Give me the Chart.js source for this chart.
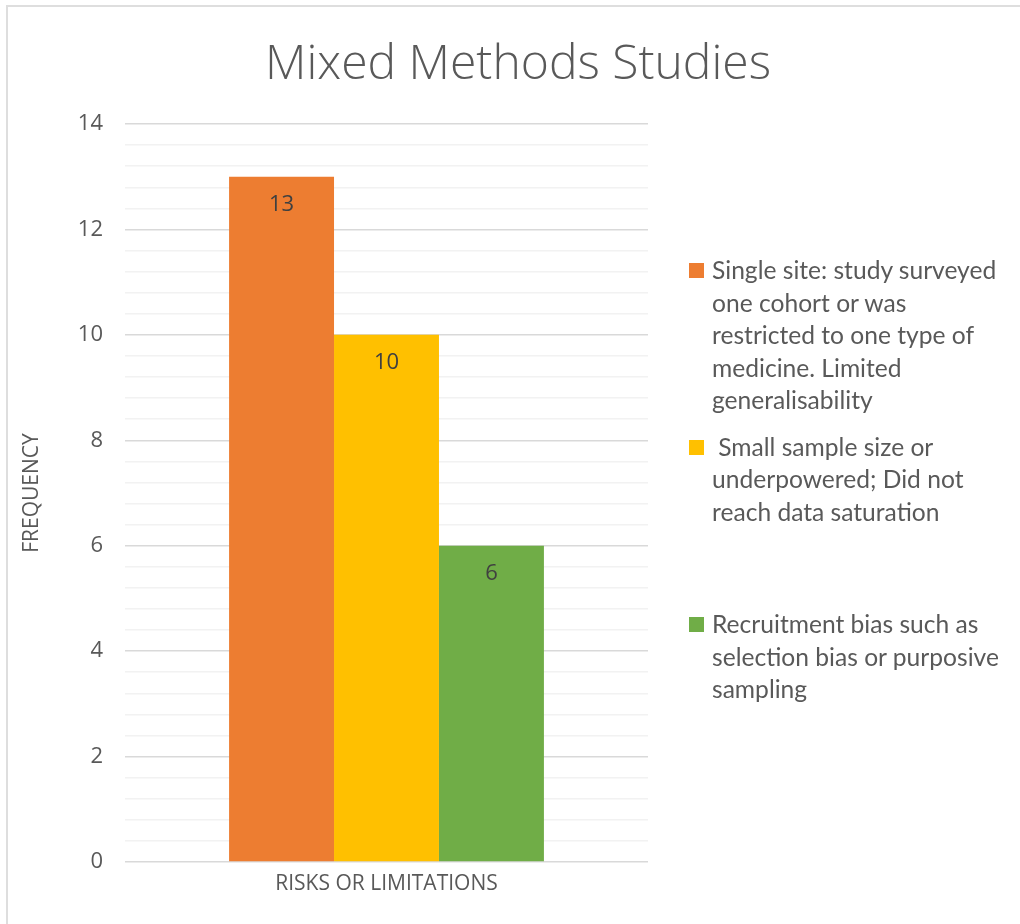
<!DOCTYPE html>
<html>
<head>
<meta charset="utf-8">
<script src="https://cdn.jsdelivr.net/npm/chart.js@4.4.1/dist/chart.umd.min.js"></script>
<style>
  html, body { margin: 0; padding: 0; background: #ffffff; }
  #wrap { position: relative; width: 1020px; height: 924px; overflow: hidden; background: #ffffff; }
  #frame { position: absolute; left: 6px; top: 5px; right: -4px; bottom: -4px;
           border-left: 2px solid #dedede; border-top: 2px solid #dedede; }
  #chart { position: absolute; left: 0; top: 0; }
  #title { position: absolute; left: 0; width: 1036px; top: 28px; text-align: center;
           font-family: "Open Sans", sans-serif; font-weight: 300; font-size: 48px;
           color: #595959; line-height: 66px; }
  #legend { position: absolute; left: 689px; top: 254px; width: 330px;
            font-family: Lato, "Open Sans", sans-serif; font-size: 24.6px; color: #595959; }
  .item { position: relative; padding-left: 23px; line-height: 32.5px; white-space: nowrap; }
  .swatch { position: absolute; left: 0; top: 9px; width: 15px; height: 15px; }
</style>
</head>
<body>
<div id="wrap">
  <div id="frame"></div>
  <canvas id="chart" width="1020" height="924"></canvas>
  <div id="title">Mixed Methods Studies</div>
  <div id="legend"></div>
</div>
<script>
// Chart data
const chartTitle = "Mixed Methods Studies";
const categories = ["RISKS OR LIMITATIONS"];
const seriesNames = [
  ["Single site: study surveyed", "one cohort or was", "restricted to one type of", "medicine. Limited", "generalisability"],
  ["\u00a0Small sample size or", "underpowered; Did not", "reach data saturation"],
  ["Recruitment bias such as", "selection bias or purposive", "sampling"]
];
const singleSite = [13];
const smallSample = [10];
const recruitmentBias = [6];
const seriesColors = ["#ED7D31", "#FFC000", "#70AD47"];
const yTickLabels = [0, 2, 4, 6, 8, 10, 12, 14];
const yAxisTitle = "FREQUENCY";

const seriesValues = [singleSite, smallSample, recruitmentBias];
const textGrey = "#595959";
document.getElementById("title").textContent = chartTitle;

const datasets = seriesValues.map((vals, i) => ({
  label: seriesNames[i].join(" ").trim(),
  data: vals,
  backgroundColor: seriesColors[i],
  borderWidth: 0
}));

// value labels drawn just inside the top of each bar
const barValueLabels = {
  id: "barValueLabels",
  afterDatasetsDraw(chart) {
    const ctx = chart.ctx;
    ctx.save();
    ctx.font = "22px 'Open Sans', sans-serif";
    ctx.fillStyle = "#404040";
    ctx.textAlign = "center";
    ctx.textBaseline = "middle";
    chart.data.datasets.forEach((ds, di) => {
      chart.getDatasetMeta(di).data.forEach((bar, j) => {
        ctx.fillText(String(ds.data[j]), bar.x, bar.y + 28);
      });
    });
    ctx.restore();
  }
};

const isMajor = v => Math.abs(v - Math.round(v / 2) * 2) < 1e-6;

new Chart(document.getElementById("chart"), {
  type: "bar",
  data: { labels: categories, datasets },
  options: {
    responsive: false,
    animation: false,
    layout: { padding: { left: 19, top: 124, right: 372, bottom: 22 } },
    datasets: { bar: { categoryPercentage: 0.602, barPercentage: 1.0 } },
    plugins: {
      legend: { display: false },
      title: { display: false },
      tooltip: { enabled: false }
    },
    scales: {
      x: {
        grid: { display: false, drawTicks: false },
        border: { display: false },
        ticks: { color: textGrey, font: { family: "'Open Sans', sans-serif", size: 21 }, padding: 9 },
        afterFit(scale) { scale.height = 40; }
      },
      y: {
        min: 0,
        max: 14,
        border: { display: false },
        grid: {
          drawTicks: false,
          color: ctx => isMajor(ctx.tick.value) ? "#d9d9d9" : "#f2f2f2",
          lineWidth: 1.5
        },
        ticks: {
          stepSize: 0.4,
          autoSkip: false,
          color: textGrey,
          font: { family: "'Open Sans', sans-serif", size: 22 },
          padding: 22,
          callback: v => {
            if (!isMajor(v)) return "";
            const r = Math.round(v);
            return yTickLabels.includes(r) ? String(r) : "";
          }
        },
        title: {
          display: true,
          text: yAxisTitle,
          color: textGrey,
          font: { family: "'Open Sans', sans-serif", size: 21 },
          padding: 0
        },
        afterFit(scale) { scale.width = 106; }
      }
    }
  },
  plugins: [barValueLabels]
});

// legend built from the series names and colours
const legend = document.getElementById("legend");
const itemGaps = [0, 14, 80];
seriesNames.forEach((lines, i) => {
  const item = document.createElement("div");
  item.className = "item";
  item.style.marginTop = itemGaps[i] + "px";
  const sw = document.createElement("span");
  sw.className = "swatch";
  sw.style.background = seriesColors[i];
  item.appendChild(sw);
  lines.forEach((ln, k) => {
    if (k) item.appendChild(document.createElement("br"));
    item.appendChild(document.createTextNode(ln));
  });
  legend.appendChild(item);
});
</script>
</body>
</html>
